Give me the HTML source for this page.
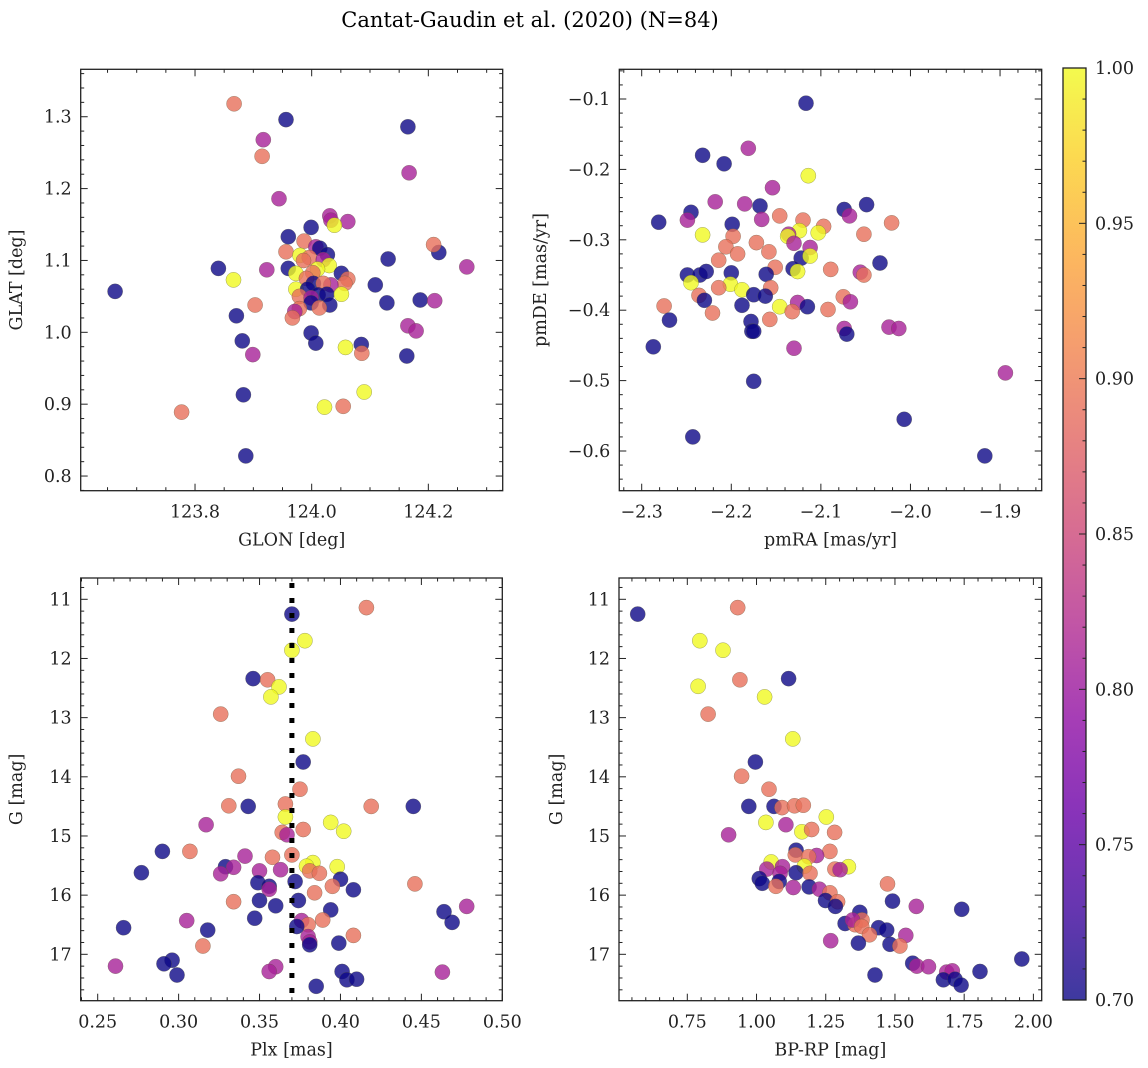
<!DOCTYPE html>
<html><head><meta charset="utf-8">
<style>
html,body{margin:0;padding:0;background:#fff;}
svg{display:block;font-family:"DejaVu Serif","Liberation Serif",serif;}
</style></head>
<body>
<svg id="fig" width="1148" height="1068" viewBox="0 0 1148 1068" xmlns="http://www.w3.org/2000/svg">
<defs>
<linearGradient id="plasma" x1="0" y1="1" x2="0" y2="0">
<stop offset="0" stop-color="#0d0887"/><stop offset="0.1" stop-color="#41049d"/><stop offset="0.2" stop-color="#6a00a8"/><stop offset="0.3" stop-color="#8f0da4"/><stop offset="0.4" stop-color="#b12a90"/><stop offset="0.5" stop-color="#cc4778"/><stop offset="0.6" stop-color="#e16462"/><stop offset="0.7" stop-color="#f2844b"/><stop offset="0.8" stop-color="#fca636"/><stop offset="0.9" stop-color="#fcce25"/><stop offset="1" stop-color="#f0f921"/>
</linearGradient>
</defs>
<text x="530" y="27" text-anchor="middle" font-size="21">Cantat-Gaudin et al. (2020) (N=84)</text>
</svg>
<script>
// Panel 1: GLON, GLAT, membership probability
const p1Points=[[123.663,1.057,.7],[123.867,1.318,.89],[123.956,1.296,.7],[124.165,1.286,.7],[123.917,1.268,.81],[123.915,1.245,.89],[124.167,1.222,.81],[123.944,1.186,.81],[124.031,1.162,.81],[124.033,1.156,.81],[124.062,1.154,.81],[124.039,1.149,1],[123.999,1.146,.7],[123.960,1.133,.7],[123.987,1.127,.89],[124.007,1.119,.81],[124.014,1.117,.7],[123.956,1.112,.89],[124.027,1.108,.7],[123.980,1.107,1],[123.996,1.104,.89],[123.986,1.100,.89],[124.020,1.101,.81],[124.131,1.102,.7],[124.218,1.111,.7],[124.209,1.122,.89],[124.266,1.091,.81],[123.840,1.089,.7],[123.960,1.089,.7],[123.923,1.087,.81],[124.030,1.093,1],[124.010,1.088,1],[124.051,1.082,.7],[123.973,1.082,1],[124.002,1.083,.89],[124.062,1.074,.89],[124.057,1.068,.89],[123.866,1.073,1],[123.991,1.075,.89],[124.003,1.068,.7],[124.033,1.066,.81],[124.020,1.068,.89],[124.109,1.066,.7],[123.973,1.060,1],[123.993,1.060,.7],[123.979,1.050,.89],[124.011,1.052,.7],[123.999,1.048,.81],[124.026,1.053,.7],[124.051,1.053,1],[124.186,1.045,.7],[124.211,1.044,.81],[124.129,1.041,.7],[124.031,1.038,.7],[123.999,1.041,.7],[124.013,1.034,.89],[123.979,1.033,.89],[123.903,1.038,.89],[123.971,1.029,.81],[123.967,1.020,.89],[123.871,1.023,.7],[124.165,1.009,.81],[124.179,1.002,.81],[123.999,0.999,.7],[123.881,0.988,.7],[124.007,0.985,.7],[124.085,0.983,.7],[124.058,0.979,1],[124.086,0.971,.89],[123.899,0.969,.81],[124.163,0.967,.7],[123.883,0.913,.7],[124.090,0.917,1],[124.022,0.896,1],[124.054,0.897,.89],[123.777,0.889,.89],[123.887,0.828,.7]];
// Panel 2: pmRA, pmDE, probability
const p2Points=[[-2.1166,-0.106,.7],[-2.181,-0.170,.81],[-2.232,-0.180,.7],[-2.208,-0.192,.7],[-2.114,-0.209,1],[-2.154,-0.226,.81],[-2.218,-0.246,.81],[-2.185,-0.249,.81],[-2.168,-0.252,.7],[-2.074,-0.257,.7],[-2.049,-0.250,.7],[-2.068,-0.266,.81],[-2.245,-0.261,.7],[-2.281,-0.275,.7],[-2.249,-0.272,.81],[-2.146,-0.266,.89],[-2.166,-0.271,.81],[-2.199,-0.278,.7],[-2.120,-0.272,.89],[-2.097,-0.281,.89],[-2.021,-0.276,.89],[-2.232,-0.293,1],[-2.198,-0.295,.89],[-2.124,-0.287,1],[-2.136,-0.292,.81],[-2.137,-0.295,1],[-2.103,-0.290,1],[-2.052,-0.292,.89],[-2.130,-0.305,.81],[-2.172,-0.304,.89],[-2.206,-0.310,.89],[-2.112,-0.311,.81],[-2.193,-0.320,.89],[-2.158,-0.317,.89],[-2.122,-0.326,.7],[-2.112,-0.323,1],[-2.214,-0.329,.89],[-2.151,-0.339,.89],[-2.034,-0.333,.7],[-2.131,-0.341,.7],[-2.126,-0.345,1],[-2.089,-0.342,.89],[-2.056,-0.346,.81],[-2.052,-0.350,.89],[-2.249,-0.350,.7],[-2.235,-0.350,.7],[-2.228,-0.345,.7],[-2.200,-0.347,.7],[-2.161,-0.349,.7],[-2.245,-0.361,1],[-2.201,-0.363,1],[-2.188,-0.371,1],[-2.214,-0.368,.89],[-2.156,-0.368,.89],[-2.175,-0.378,.7],[-2.162,-0.380,.7],[-2.236,-0.379,.89],[-2.230,-0.386,.7],[-2.075,-0.381,.89],[-2.067,-0.388,.81],[-2.126,-0.389,.81],[-2.115,-0.395,.7],[-2.188,-0.393,.7],[-2.146,-0.395,1],[-2.132,-0.402,.89],[-2.092,-0.399,.89],[-2.275,-0.394,.89],[-2.221,-0.404,.89],[-2.269,-0.414,.7],[-2.157,-0.413,.89],[-2.178,-0.416,.7],[-2.177,-0.430,.7],[-2.175,-0.430,.7],[-2.074,-0.426,.81],[-2.071,-0.434,.7],[-2.024,-0.424,.81],[-2.013,-0.426,.81],[-2.287,-0.452,.7],[-2.130,-0.454,.81],[-2.175,-0.501,.7],[-1.894,-0.489,.81],[-2.007,-0.555,.7],[-2.243,-0.580,.7],[-1.917,-0.607,.7]];
// Panel 3: Plx, G, probability
const p3Points=[[0.370,11.25,.7],[0.416,11.14,.89],[0.378,11.70,1],[0.370,11.86,1],[0.346,12.34,.7],[0.355,12.36,.89],[0.362,12.48,1],[0.357,12.65,1],[0.326,12.94,.89],[0.383,13.36,1],[0.377,13.75,.7],[0.337,13.99,.89],[0.375,14.21,.89],[0.343,14.50,.7],[0.331,14.49,.89],[0.366,14.46,.89],[0.419,14.50,.89],[0.445,14.50,.7],[0.366,14.68,1],[0.394,14.77,1],[0.402,14.92,1],[0.317,14.81,.81],[0.377,14.89,.89],[0.364,14.94,.89],[0.367,14.98,.81],[0.290,15.26,.7],[0.307,15.26,.89],[0.370,15.32,.89],[0.341,15.34,.81],[0.358,15.36,.89],[0.383,15.45,1],[0.379,15.51,1],[0.398,15.52,1],[0.329,15.52,.7],[0.334,15.53,.81],[0.326,15.64,.81],[0.350,15.59,.81],[0.363,15.57,.81],[0.381,15.59,.89],[0.387,15.63,.89],[0.277,15.62,.7],[0.400,15.73,.7],[0.372,15.77,.7],[0.349,15.79,.7],[0.356,15.85,.7],[0.356,15.90,.81],[0.395,15.85,.89],[0.446,15.81,.89],[0.408,15.91,.7],[0.384,15.96,.89],[0.350,16.09,.7],[0.374,16.09,.7],[0.334,16.11,.89],[0.360,16.18,.7],[0.394,16.25,.7],[0.478,16.19,.81],[0.464,16.28,.7],[0.469,16.46,.7],[0.347,16.39,.7],[0.305,16.43,.81],[0.376,16.43,.81],[0.389,16.42,.89],[0.380,16.50,.89],[0.373,16.53,.7],[0.266,16.55,.7],[0.318,16.59,.7],[0.380,16.70,.81],[0.381,16.79,.81],[0.381,16.84,.7],[0.408,16.68,.89],[0.399,16.81,.7],[0.315,16.86,.89],[0.296,17.10,.7],[0.291,17.16,.7],[0.261,17.20,.81],[0.299,17.35,.7],[0.360,17.21,.81],[0.356,17.29,.81],[0.401,17.29,.7],[0.404,17.43,.7],[0.410,17.42,.7],[0.463,17.30,.81],[0.385,17.54,.7]];
// Panel 4: BP-RP, G, probability
const p4Points=[[0.571,11.25,.7],[0.932,11.14,.89],[0.795,11.70,1],[0.879,11.86,1],[0.789,12.47,1],[1.116,12.34,.7],[0.940,12.36,.89],[1.029,12.65,1],[0.825,12.94,.89],[1.131,13.36,1],[0.996,13.75,.7],[0.946,13.99,.89],[1.045,14.21,.89],[0.972,14.50,.7],[1.063,14.50,.7],[1.092,14.52,.89],[1.137,14.49,.89],[1.169,14.48,.89],[1.252,14.68,1],[1.034,14.77,1],[1.106,14.81,.81],[0.899,14.98,.81],[1.164,14.93,1],[1.199,14.89,.89],[1.282,14.94,.89],[1.143,15.24,.7],[1.265,15.26,.89],[1.217,15.33,.81],[1.140,15.32,.89],[1.188,15.35,.89],[1.053,15.44,1],[1.173,15.51,1],[1.332,15.52,1],[1.094,15.52,.81],[1.037,15.56,.81],[1.085,15.63,.81],[1.283,15.56,.89],[1.302,15.57,.81],[1.143,15.62,.7],[1.193,15.63,.89],[1.010,15.72,.7],[1.021,15.80,.7],[1.082,15.77,.7],[1.070,15.85,.89],[1.133,15.87,.81],[1.190,15.86,.7],[1.227,15.90,.81],[1.473,15.81,.89],[1.265,15.96,.89],[1.249,16.09,.7],[1.293,16.11,.89],[1.285,16.19,.7],[1.491,16.10,.7],[1.577,16.19,.81],[1.741,16.24,.7],[1.373,16.29,.7],[1.320,16.48,.7],[1.356,16.50,.89],[1.381,16.42,.89],[1.347,16.42,.81],[1.380,16.53,.89],[1.441,16.55,.7],[1.470,16.59,.7],[1.408,16.67,.89],[1.539,16.68,.81],[1.368,16.81,.7],[1.482,16.83,.7],[1.518,16.86,.89],[1.268,16.77,.81],[1.564,17.15,.7],[1.579,17.20,.81],[1.621,17.21,.81],[1.687,17.30,.81],[1.707,17.28,.81],[1.675,17.43,.7],[1.717,17.42,.7],[1.739,17.52,.7],[1.428,17.35,.7],[1.807,17.29,.7],[1.958,17.08,.7]];
const plxMean=0.37;
const cbTicks=[0.70,0.75,0.80,0.85,0.90,0.95,1.00];

const NS="http://www.w3.org/2000/svg";
const svg=document.getElementById('fig');
function mk(tag,attrs,parent){const e=document.createElementNS(NS,tag);for(const k in attrs)e.setAttribute(k,attrs[k]);(parent||svg).appendChild(e);return e;}
const stops=[[13,8,135],[65,4,157],[106,0,168],[143,13,164],[177,42,144],[204,71,120],[225,100,98],[242,132,75],[252,166,54],[252,206,37],[240,249,33]];
function plasma(p){let t=Math.max(0,Math.min(1,(p-0.7)/0.3))*10;const i=Math.min(9,Math.floor(t)),f=t-i;const a=stops[i],b=stops[i+1];return 'rgb('+[0,1,2].map(k=>Math.round(a[k]+(b[k]-a[k])*f)).join(',')+')';}
function fmt(v,d){return (v<0?'\u2212':'')+Math.abs(v).toFixed(d);}
const FS=17.5;

function panel(cfg){
  const g=mk('g',{});
  
  
  const sx=v=>cfg.L+(v-cfg.xd[0])/(cfg.xd[1]-cfg.xd[0])*(cfg.R-cfg.L);
  const sy=v=>cfg.inv? cfg.T+(v-cfg.yd[0])/(cfg.yd[1]-cfg.yd[0])*(cfg.B-cfg.T) : cfg.B-(v-cfg.yd[0])/(cfg.yd[1]-cfg.yd[0])*(cfg.B-cfg.T);
  const clip='c'+cfg.name;
  const cp=mk('clipPath',{id:clip},g);mk('rect',{x:cfg.L,y:cfg.T,width:cfg.R-cfg.L,height:cfg.B-cfg.T},cp);
  const pg=mk('g',{'clip-path':'url(#'+clip+')'},g);
  cfg.points.forEach(p=>{
    const c=mk('circle',{cx:sx(p[0]).toFixed(1),cy:sy(p[1]).toFixed(1),r:7.6,fill:plasma(p[2]),'fill-opacity':0.8,stroke:'rgba(90,90,60,0.55)','stroke-width':0.5},pg);
    
    
  });
  if(cfg.vline!==undefined){
    const l=mk('line',{x1:sx(cfg.vline),x2:sx(cfg.vline),y1:cfg.T+5,y2:cfg.B,stroke:'#000','stroke-width':5,'stroke-dasharray':'5 10'},pg);
    
    
  }
  mk('rect',{x:cfg.L,y:cfg.T,width:cfg.R-cfg.L,height:cfg.B-cfg.T,fill:'none',stroke:'#222','stroke-width':1.3},g);
  const eps=1e-9;
  const xs=Math.ceil((cfg.xd[0]-eps)/cfg.xmin)*cfg.xmin;
  for(let v=xs;v<=cfg.xd[1]+eps;v+=cfg.xmin){
    const major=Math.abs(v/cfg.xmaj-Math.round(v/cfg.xmaj))<1e-6;const len=major?7:3.5;const x=sx(v);
    mk('line',{x1:x,x2:x,y1:cfg.B,y2:cfg.B-len,stroke:'#222','stroke-width':1},g);
    mk('line',{x1:x,x2:x,y1:cfg.T,y2:cfg.T+len,stroke:'#222','stroke-width':1},g);
    if(major){const t=mk('text',{x:x,y:cfg.B+27,'text-anchor':'middle','font-size':FS,fill:'#222'},g);t.textContent=fmt(v,cfg.xdec);
      
      }
  }
  const ylo=Math.min(cfg.yd[0],cfg.yd[1]),yhi=Math.max(cfg.yd[0],cfg.yd[1]);
  for(let v=Math.ceil((ylo-eps)/cfg.ymin)*cfg.ymin;v<=yhi+eps;v+=cfg.ymin){
    const major=Math.abs(v/cfg.ymaj-Math.round(v/cfg.ymaj))<1e-6;const len=major?7:3.5;const y=sy(v);
    mk('line',{x1:cfg.L,x2:cfg.L+len,y1:y,y2:y,stroke:'#222','stroke-width':1},g);
    mk('line',{x1:cfg.R,x2:cfg.R-len,y1:y,y2:y,stroke:'#222','stroke-width':1},g);
    if(major){const t=mk('text',{x:cfg.L-9,y:y+6,'text-anchor':'end','font-size':FS,fill:'#222'},g);t.textContent=fmt(v,cfg.ydec);
      
      }
  }
  const xl=mk('text',{x:(cfg.L+cfg.R)/2,y:cfg.B+55,'text-anchor':'middle','font-size':FS,fill:'#222'},g);xl.textContent=cfg.xlabel;
  
  
  const yx=cfg.ylx,yy=(cfg.T+cfg.B)/2;
  const yl=mk('text',{x:yx,y:yy,'text-anchor':'middle','font-size':FS,fill:'#222',transform:'rotate(-90 '+yx+' '+yy+')'},g);yl.textContent=cfg.ylabel;
  
  
}
panel({name:'glon-glat-panel',points:p1Points,L:80.7,R:502.7,T:69.3,B:490.7,xd:[123.604,124.3275],yd:[0.7796,1.366],xmaj:0.2,xmin:0.05,ymaj:0.1,ymin:0.02,xdec:1,ydec:1,xlabel:'GLON [deg]',ylabel:'GLAT [deg]',ylx:22});
panel({name:'proper-motion-panel',points:p2Points,L:619.3,R:1041.7,T:69.3,B:490.7,xd:[-2.325,-1.8535],yd:[-0.6564,-0.0578],xmaj:0.1,xmin:0.02,ymaj:0.1,ymin:0.02,xdec:1,ydec:1,xlabel:'pmRA [mas/yr]',ylabel:'pmDE [mas/yr]',ylx:546});
panel({name:'parallax-magnitude-panel',points:p3Points,L:80.7,R:502.3,T:578,B:1000.7,xd:[0.2395,0.50],yd:[10.640,17.784],inv:true,xmaj:0.05,xmin:0.01,ymaj:1,ymin:0.2,xdec:2,ydec:0,xlabel:'Plx [mas]',ylabel:'G [mag]',ylx:22,vline:plxMean});
panel({name:'color-magnitude-panel',points:p4Points,L:619,R:1041.7,T:578,B:1000.7,xd:[0.5033,2.030],yd:[10.640,17.784],inv:true,xmaj:0.25,xmin:0.05,ymaj:1,ymin:0.2,xdec:2,ydec:0,xlabel:'BP-RP [mag]',ylabel:'G [mag]',ylx:562});

const cb=mk('g',{});


const cbT=68,cbB=1000,cbL=1063,cbR=1086;
mk('rect',{x:cbL,y:cbT,width:cbR-cbL,height:cbB-cbT,fill:'url(#plasma)','fill-opacity':0.8},cb);
mk('rect',{x:cbL,y:cbT,width:cbR-cbL,height:cbB-cbT,fill:'none',stroke:'#222','stroke-width':1.3},cb);
const cy=v=>cbB-(v-0.7)/0.3*(cbB-cbT);
for(let i=0;i<=30;i++){const v=0.7+i*0.01;const major=i%5===0;mk('line',{x1:cbR,x2:cbR-(major?7:3.5),y1:cy(v),y2:cy(v),stroke:'#222','stroke-width':1},cb);}
cbTicks.forEach(v=>{const t=mk('text',{x:cbR+9,y:cy(v)+6,'font-size':FS,fill:'#222'},cb);t.textContent=v.toFixed(2);
  
  });
</script>
</body></html>
